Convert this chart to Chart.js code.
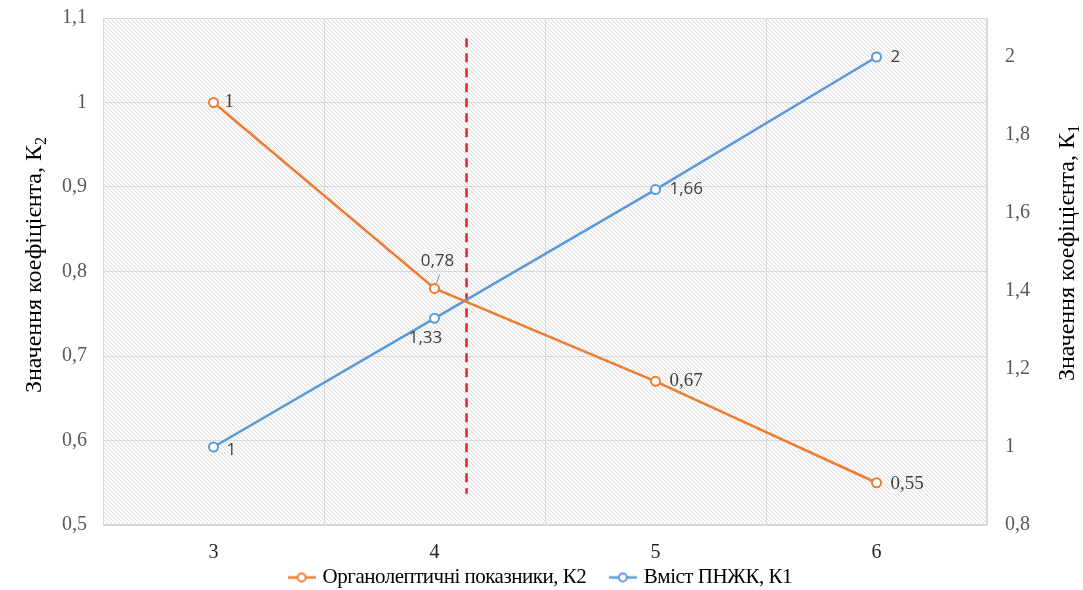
<!DOCTYPE html>
<html>
<head>
<meta charset="utf-8">
<script src="https://cdn.jsdelivr.net/npm/chart.js@4/dist/chart.umd.min.js"></script>
<style>
  html, body { margin: 0; padding: 0; background: #fff; }
  #wrap { width: 1083px; height: 590px; position: relative; }
</style>
</head>
<body>
<div id="wrap"><canvas id="chart"></canvas></div>
<script>
// data
const categories = ['3', '4', '5', '6'];
const organoK2 = [1, 0.78, 0.67, 0.55];
const pufaK1 = [1, 1.33, 1.66, 2];
const organoLabels = ['1', '0,78', '0,67', '0,55'];
const pufaLabels = ['1', '1,33', '1,66', '2'];
// dashed divider: category position (index-based 1.145 ~ between 4 and 5), y range on left axis
const dividerIndex = 1.145;
const dividerRange = [0.537, 1.076];

const ORANGE = '#ed7d31';
const BLUE = '#5b9bd5';
const SERIF = '"Liberation Serif", "Times New Roman", serif';

const comma = v => String(Math.round(v * 100) / 100).replace('.', ',');

// hatch pattern for plot area
const hatch = (() => {
    const c = document.createElement('canvas');
    c.width = 4; c.height = 4;
    const g = c.getContext('2d');
    g.fillStyle = '#fbfbfb';
    g.fillRect(0, 0, 4, 4);
    g.strokeStyle = '#dddddd';
    g.lineWidth = 1;
    g.beginPath();
    g.moveTo(-1, -1); g.lineTo(5, 5);
    g.moveTo(-1, 3); g.lineTo(1, 5);
    g.moveTo(3, -1); g.lineTo(5, 1);
    g.stroke();
    return c;
})();

// legend marker: short line with hollow circle
const legendIcon = color => {
    const c = document.createElement('canvas');
    c.width = 28; c.height = 12;
    const g = c.getContext('2d');
    g.strokeStyle = color;
    g.lineWidth = 2.5;
    g.beginPath(); g.moveTo(0, 6); g.lineTo(28, 6); g.stroke();
    g.fillStyle = '#fff';
    g.lineWidth = 2;
    g.beginPath(); g.arc(14, 6, 4, 0, Math.PI * 2); g.fill(); g.stroke();
    return c;
};

const backgroundPlugin = {
    id: 'hatchBg',
    beforeDraw(chart) {
        const { ctx, chartArea: a } = chart;
        ctx.save();
        ctx.fillStyle = ctx.createPattern(hatch, 'repeat');
        ctx.fillRect(a.left, a.top, a.right - a.left, a.bottom - a.top);
        ctx.strokeStyle = '#d9d9d9';
        ctx.lineWidth = 1;
        ctx.strokeRect(a.left + 0.5, a.top + 0.5, a.right - a.left - 1, a.bottom - a.top - 1);
        ctx.restore();
    }
};

const dividerPlugin = {
    id: 'divider',
    beforeDatasetsDraw(chart) {
        const { ctx, scales } = chart;
        const i0 = Math.floor(dividerIndex);
        const p0 = scales.x.getPixelForValue(i0);
        const p1 = scales.x.getPixelForValue(i0 + 1);
        const x = p0 + (p1 - p0) * (dividerIndex - i0);
        ctx.save();
        ctx.strokeStyle = '#e8222a';
        ctx.lineWidth = 2.5;
        ctx.setLineDash([9, 6]);
        ctx.beginPath();
        ctx.moveTo(x, scales.y.getPixelForValue(dividerRange[1]));
        ctx.lineTo(x, scales.y.getPixelForValue(dividerRange[0]));
        ctx.stroke();
        ctx.restore();
    }
};

// data labels: [dx, dy, font, align]
const serifLbl = '19px ' + SERIF;
const sans = '17px "Open Sans", "Liberation Sans", sans-serif';
const organoPos = [[11, 0, serifLbl, 'left'], [3, -27, sans, 'center'], [14, 0, serifLbl, 'left'], [14, 1, serifLbl, 'left']];
const pufaPos = [[13, 3, sans, 'left'], [-9, 20, sans, 'center'], [14, 0, sans, 'left'], [14, 0, sans, 'left']];

const labelsPlugin = {
    id: 'pointLabels',
    afterDatasetsDraw(chart) {
        const { ctx } = chart;
        const sets = [[0, organoLabels, organoPos], [1, pufaLabels, pufaPos]];
        ctx.save();
        ctx.fillStyle = '#404040';
        ctx.textBaseline = 'middle';
        sets.forEach(([di, texts, pos]) => {
            chart.getDatasetMeta(di).data.forEach((pt, i) => {
                const [dx, dy, font, align] = pos[i];
                ctx.font = font;
                ctx.textAlign = align;
                ctx.fillText(texts[i], pt.x + dx, pt.y + dy);
                if (di === 0 && i === 1) {
                    // leader line
                    ctx.strokeStyle = '#8c8c8c';
                    ctx.lineWidth = 1;
                    ctx.beginPath();
                    ctx.moveTo(pt.x + 2, pt.y - 5);
                    ctx.lineTo(pt.x + 5, pt.y - 14);
                    ctx.stroke();
                }
            });
        });
        ctx.restore();
    }
};

const drawTitle = (ctx, x, y, main, sub) => {
    ctx.save();
    ctx.translate(x, y);
    ctx.rotate(-Math.PI / 2);
    ctx.fillStyle = '#000';
    ctx.textBaseline = 'middle';
    ctx.font = '24px ' + SERIF;
    const w1 = ctx.measureText(main).width;
    ctx.font = '16px ' + SERIF;
    const w2 = ctx.measureText(sub).width;
    const start = -(w1 + w2) / 2;
    ctx.font = '24px ' + SERIF;
    ctx.textAlign = 'left';
    ctx.fillText(main, start, 0);
    ctx.font = '16px ' + SERIF;
    ctx.fillText(sub, start + w1, 7);
    ctx.restore();
};

const titlesPlugin = {
    id: 'axisTitles',
    afterDraw(chart) {
        drawTitle(chart.ctx, 35, 265, 'Значення коефіцієнта, К', '2');
        drawTitle(chart.ctx, 1068, 253, 'Значення коефіцієнта, К', '1');
    }
};

const noPad = (s, w) => { s.width = w; s.paddingTop = 0; s.paddingBottom = 0; };

const ctx = document.getElementById('chart').getContext('2d');

const chart = new Chart(ctx, {
    type: 'line',
    data: {
        labels: categories,
        datasets: [{
            label: 'Органолептичні показники, К2',
            data: organoK2,
            yAxisID: 'y',
            borderColor: ORANGE,
            backgroundColor: '#fff',
            borderWidth: 2.5,
            pointRadius: 4.5,
            pointBorderWidth: 2,
            pointBackgroundColor: '#fff',
            pointBorderColor: ORANGE,
            tension: 0
        }, {
            label: 'Вміст ПНЖК, К1',
            data: pufaK1,
            yAxisID: 'y1',
            borderColor: BLUE,
            backgroundColor: '#fff',
            borderWidth: 2.5,
            pointRadius: 4.5,
            pointBorderWidth: 2,
            pointBackgroundColor: '#fff',
            pointBorderColor: BLUE,
            tension: 0
        }]
    },
    options: {
        responsive: true,
        maintainAspectRatio: false,
        animation: false,
        layout: { padding: { top: 18, left: 0, right: 0, bottom: -8 } },
        scales: {
            x: {
                offset: true,
                grid: { offset: true, color: '#d9d9d9', drawTicks: false },
                border: { display: false },
                ticks: {
                    color: '#262626',
                    padding: 16,
                    font: { family: SERIF, size: 20 }
                },
                afterFit: s => { s.height = 40; s.paddingLeft = 0; s.paddingRight = 0; }
            },
            y: {
                position: 'left',
                min: 0.5,
                max: 1.1,
                grid: { color: '#d9d9d9', drawTicks: false },
                border: { display: false },
                ticks: {
                    stepSize: 0.1,
                    color: '#595959',
                    padding: 16,
                    font: { family: SERIF, size: 20 },
                    callback: v => comma(v)
                },
                afterFit: s => noPad(s, 103)
            },
            y1: {
                position: 'right',
                min: 0.8,
                max: 2.1,
                grid: { display: false, drawTicks: false },
                border: { display: false },
                ticks: {
                    stepSize: 0.2,
                    color: '#595959',
                    padding: 18,
                    font: { family: SERIF, size: 20 },
                    callback: v => comma(v)
                },
                afterBuildTicks: s => { s.ticks = s.ticks.filter(t => t.value < 2.05); },
                afterFit: s => noPad(s, 96)
            }
        },
        plugins: {
            tooltip: { enabled: false },
            legend: {
                position: 'bottom',
                labels: {
                    usePointStyle: true,
                    boxWidth: 28,
                    boxHeight: 12,
                    padding: 2,
                    color: '#595959',
                    font: { family: SERIF, size: 21 },
                    generateLabels: chart => chart.data.datasets.map((d, i) => ({
                        text: i === 0 ? d.label + '\u2003\u2009' : d.label,
                        pointStyle: legendIcon(d.borderColor),
                        fillStyle: d.borderColor,
                        strokeStyle: d.borderColor,
                        lineWidth: 0,
                        datasetIndex: i,
                        hidden: false
                    }))
                }
            }
        }
    },
    plugins: [backgroundPlugin, dividerPlugin, labelsPlugin, titlesPlugin]
});

// the legend text in the source is slightly condensed; tighten it while it is measured and drawn
const legend = chart.legend;
const spaced = fn => function (...args) {
    const c = this.ctx;
    const prev = c.letterSpacing;
    c.letterSpacing = '-0.5px';
    const r = fn.apply(this, args);
    c.letterSpacing = prev;
    return r;
};
legend.fit = spaced(legend.fit);
legend.draw = spaced(legend.draw);
chart.update();
</script>
</body>
</html>
